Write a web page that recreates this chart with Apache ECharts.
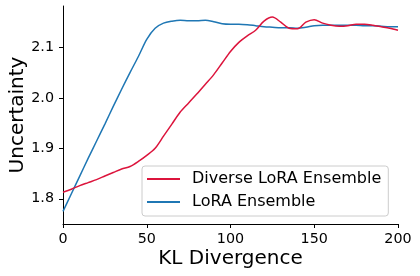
<!DOCTYPE html>
<html><head><meta charset="utf-8">
<script src="https://cdn.jsdelivr.net/npm/echarts@6/dist/echarts.min.js"></script>
<style>html,body{margin:0;padding:0;background:#fff}#c{width:420px;height:276px}</style>
</head><body><div id="c"></div>
<script>
const klDivergence = [0,5,10,15,20,25,30,35,40,45,50,55,60,65,70,75,80,85,90,95,100,105,110,115,120,125,130,135,140,145,150,155,160,165,170,175,180,185,190,195,200];
const diverseLoraEnsemble = [1.813,1.819,1.826,1.832,1.838,1.845,1.852,1.859,1.864,1.874,1.886,1.900,1.924,1.948,1.972,1.990,2.008,2.027,2.046,2.069,2.092,2.110,2.123,2.134,2.152,2.160,2.150,2.138,2.137,2.150,2.155,2.148,2.144,2.142,2.143,2.146,2.146,2.144,2.141,2.138,2.134];
const loraEnsemble = [1.775,1.810,1.845,1.880,1.914,1.948,1.983,2.017,2.050,2.082,2.116,2.138,2.148,2.152,2.154,2.153,2.153,2.154,2.151,2.147,2.146,2.146,2.145,2.143,2.141,2.140,2.139,2.139,2.138,2.140,2.143,2.144,2.144,2.144,2.144,2.144,2.143,2.143,2.142,2.141,2.141];
const xTicks = [0,50,100,150,200];
const yTicks = [1.8,1.9,2.0,2.1];
const seriesNames = ['Diverse LoRA Ensemble','LoRA Ensemble'];
const colors = ['#DC143C','#1f77b4'];

const font = 'DejaVu Sans';
const chart = echarts.init(document.getElementById('c'), null, {renderer:'canvas'});
const pair = (xs, ys) => xs.map((x,i)=>[x, ys[i]]);
chart.setOption({
  animation:false,
  backgroundColor:'#fff',
  grid:{left:63,right:22,top:6,bottom:52,containLabel:false,outerBoundsMode:'none'},
  xAxis:{type:'value',min:0,max:200,interval:50,
    name:'KL Divergence',nameLocation:'middle',nameGap:25,nameMoveOverlap:false,
    nameTextStyle:{fontFamily:font,fontSize:20,color:'#000'},
    axisLine:{show:true,onZero:false,lineStyle:{color:'#000',width:1}},
    axisTick:{show:true,length:4,customValues:xTicks,lineStyle:{color:'#000',width:1}},
    axisLabel:{fontFamily:font,fontSize:14.3,color:'#000',margin:8,customValues:xTicks},
    splitLine:{show:false}},
  yAxis:{type:'value',min:1.75,max:2.182,
    name:'Uncertainty',nameLocation:'middle',nameGap:35,nameMoveOverlap:false,
    nameTextStyle:{fontFamily:font,fontSize:20,color:'#000'},
    axisLine:{show:true,onZero:false,lineStyle:{color:'#000',width:1}},
    axisTick:{show:true,length:4,customValues:yTicks,lineStyle:{color:'#000',width:1}},
    axisLabel:{fontFamily:font,fontSize:14.3,color:'#000',margin:9,customValues:yTicks,formatter:v=>Number(v).toFixed(1)},
    splitLine:{show:false}},
  legend:{orient:'vertical',left:142,top:166,
    data:seriesNames,
    icon:'rect',itemWidth:33,itemHeight:2,itemGap:7,
    padding:[5,7,6,5],
    borderColor:'#cccccc',borderWidth:1,borderRadius:3,backgroundColor:'rgba(255,255,255,0.8)',
    textStyle:{fontFamily:font,fontSize:16,color:'#000',lineHeight:16,padding:[0,0,0,7]}},
  series:[
    {name:seriesNames[0],type:'line',data:pair(klDivergence,diverseLoraEnsemble),smooth:0.3,showSymbol:false,
     lineStyle:{color:colors[0],width:1.5},itemStyle:{color:colors[0]},z:3},
    {name:seriesNames[1],type:'line',data:pair(klDivergence,loraEnsemble),smooth:0.3,showSymbol:false,
     lineStyle:{color:colors[1],width:1.5},itemStyle:{color:colors[1]},z:2}
  ]
});
</script></body></html>
